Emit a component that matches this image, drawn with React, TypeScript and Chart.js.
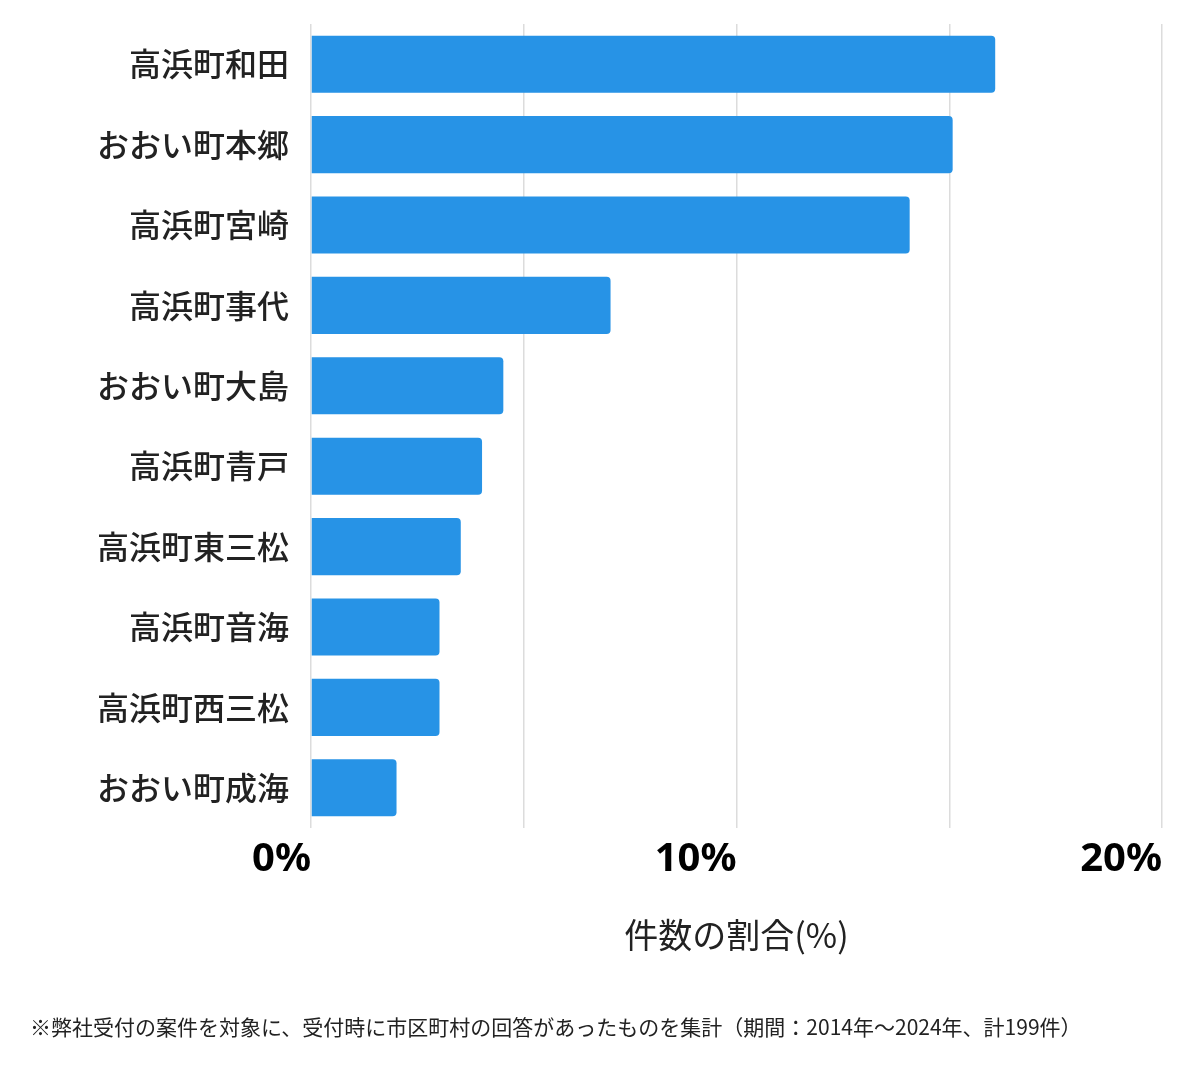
import React, { useEffect, useRef } from "react";
import { Chart, registerables } from "chart.js";

Chart.register(...registerables);

const categories = [
  "高浜町和田",
  "おおい町本郷",
  "高浜町宮崎",
  "高浜町事代",
  "おおい町大島",
  "高浜町青戸",
  "高浜町東三松",
  "高浜町音海",
  "高浜町西三松",
  "おおい町成海",
];

const shares = [16.08, 15.08, 14.07, 7.04, 4.52, 4.02, 3.52, 3.02, 3.02, 2.01];

const tickValues = [0, 5, 10, 15, 20];
const tickLabels: Record<number, string> = { 0: "0%", 10: "10%", 20: "20%" };

const axisTitle = "件数の割合(%)";
const footnote =
  "※弊社受付の案件を対象に、受付時に市区町村の回答があったものを集計（期間：2014年～2024年、計199件）";

const W = 1200;
const H = 1069;
const AREA_LEFT = 311;
const AREA_RIGHT = 1162;
const AREA_TOP = 24;
const AREA_BOTTOM = 828;
const X_AXIS_H = 132;

export default function App() {
  const ref = useRef<HTMLCanvasElement | null>(null);

  useEffect(() => {
    if (!ref.current) return;
    const footnotePlugin = {
      id: "footnote",
      afterDraw(chart: any) {
        const ctx = chart.ctx;
        ctx.save();
        ctx.font = "21px 'Noto Sans CJK JP'";
        ctx.fillStyle = "#222";
        ctx.textAlign = "left";
        ctx.textBaseline = "middle";
        ctx.fillText(footnote, 30, 1027);
        ctx.restore();
      },
    };
    const chart = new Chart(ref.current, {
      type: "bar",
      data: {
        labels: categories,
        datasets: [
          {
            data: shares,
            backgroundColor: "#2793e6",
            borderRadius: 4,
            borderSkipped: "start",
            categoryPercentage: 0.71,
            barPercentage: 1,
          },
        ],
      },
      options: {
        indexAxis: "y",
        responsive: false,
        animation: false,
        layout: {
          padding: {
            left: 0,
            right: W - AREA_RIGHT,
            top: AREA_TOP,
            bottom: H - AREA_BOTTOM - X_AXIS_H,
          },
        },
        plugins: {
          legend: { display: false },
          tooltip: { enabled: false },
        },
        scales: {
          x: {
            min: 0,
            max: 20,
            afterBuildTicks(scale: any) {
              scale.ticks = tickValues.map((v) => ({ value: v }));
            },
            afterFit(scale: any) {
              scale.height = X_AXIS_H;
              scale.paddingLeft = 0;
              scale.paddingRight = 0;
            },
            grid: {
              color: "#dcdcdc",
              lineWidth: 1.5,
              drawTicks: false,
            },
            border: { display: false },
            ticks: {
              autoSkip: false,
              maxRotation: 0,
              align: "end",
              padding: 8,
              color: "#000",
              font: { family: "'Noto Sans'", size: 40, weight: "bold" },
              callback: (v: any) => tickLabels[Number(v)] ?? "",
            },
            title: {
              display: true,
              text: axisTitle,
              color: "#222",
              font: { family: "'Noto Sans CJK JP'", size: 34 },
              padding: { top: 0, bottom: 5 },
            },
          },
          y: {
            afterFit(scale: any) {
              scale.width = AREA_LEFT;
              scale.paddingTop = 0;
              scale.paddingBottom = 0;
            },
            grid: { display: false, drawTicks: false },
            border: { display: false },
            ticks: {
              padding: 22,
              color: "#222",
              font: { family: "'Noto Sans CJK JP'", size: 32, weight: "500" },
            },
          },
        },
      },
      plugins: [footnotePlugin],
    } as any);
    return () => chart.destroy();
  }, []);

  return (
    <div style={{ position: "absolute", left: 0, top: 0, width: W, height: H, background: "#fff" }}>
      <canvas ref={ref} width={W} height={H} />
    </div>
  );
}
